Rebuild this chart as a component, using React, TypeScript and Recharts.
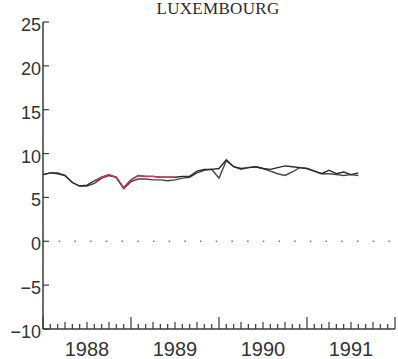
import { LineChart, Line, XAxis, YAxis, ReferenceLine } from 'recharts';

// monthly values, Jan 1988 .. Aug 1991
const seriesA = [
  7.6, 7.8, 7.8, 7.5, 6.7, 6.3, 6.4, 6.9, 7.3, 7.6, 7.3, 6.1,
  7.0, 7.5, 7.4, 7.4, 7.3, 7.3, 7.3, 7.4, 7.4, 8.0, 8.2, 8.2,
  8.3, 9.3, 8.5, 8.3, 8.4, 8.5, 8.3, 8.2, 8.4, 8.6, 8.5, 8.4,
  8.3, 8.0, 7.7, 8.1, 7.7, 7.9, 7.6, 7.8,
];
const seriesB = [
  7.6, 7.8, 7.7, 7.5, 6.7, 6.3, 6.3, 6.6, 7.2, 7.5, 7.3, 6.0,
  6.8, 7.1, 7.1, 7.0, 7.0, 6.9, 7.0, 7.2, 7.3, 7.8, 8.1, 8.2,
  7.2, 9.2, 8.5, 8.2, 8.4, 8.5, 8.3, 8.0, 7.7, 7.5, 7.9, 8.4,
  8.3, 8.0, 7.7, 7.7, 7.6, 7.5, 7.6, 7.5,
];
const redSegment = [
  null, null, null, null, null, null, null, 6.9, 7.3, 7.6, 7.3, 6.1,
  7.0, 7.5, 7.4, 7.4, 7.3, 7.3, 7.3, null, null, null, null, null,
  null, null, null, null, null, null, null, null, null, null, null, null,
  null, null, null, null, null, null, null, null,
];
const yearLabels = ['1988', '1989', '1990', '1991'];
const yTicks = [-10, -5, 0, 5, 10, 15, 20, 25];
const monthTicks = Array.from({ length: 49 }, (_, i) => i);

const data = seriesA.map((a, i) => ({ m: i, a, b: seriesB[i], red: redSegment[i] }));

const axisColor = '#3a3a3a';
const font = '"Liberation Sans", Arial, sans-serif';

function MonthTick({ x, y, payload }: any) {
  const m = payload.value;
  const len = m % 12 === 0 ? 12 : m % 3 === 0 ? 7 : 5;
  return (
    <g>
      <line x1={x} x2={x} y1={y} y2={y - len} stroke={axisColor} strokeWidth={1.2} />
      {m % 12 === 6 && (
        <text x={x} y={y + 27} textAnchor="middle" fontSize={20} fontFamily={font} fill="#333">
          {yearLabels[(m - 6) / 12]}
        </text>
      )}
    </g>
  );
}

function ValueTick({ x, y, payload }: any) {
  const v = payload.value;
  return (
    <g>
      <line x1={x} x2={x + 6} y1={y} y2={y} stroke={axisColor} strokeWidth={1.2} />
      <text x={x - 2} y={y + 9} textAnchor="end" fontSize={18} fontFamily={font} fill="#333">
        {v < 0 ? `\u2212${-v}` : v}
      </text>
    </g>
  );
}

export default function App() {
  return (
    <div style={{ position: 'absolute', left: 0, top: 0, width: 398, height: 359, background: '#fff' }}>
      <div
        style={{
          position: 'absolute',
          left: 0,
          width: 436,
          top: 0,
          lineHeight: '17px',
          textAlign: 'center',
          fontFamily: '"Liberation Serif", "DejaVu Serif", serif',
          fontSize: 17,
          color: '#2a2a2a',
          letterSpacing: 0.3,
        }}
      >
        LUXEMBOURG
      </div>
      <LineChart width={398} height={359} data={data} margin={{ top: 22, right: 3, left: 0, bottom: 0 }}>
        <XAxis
          dataKey="m"
          type="number"
          domain={[0, 48]}
          ticks={monthTicks}
          interval={0}
          height={30}
          tickSize={0}
          tickMargin={0}
          tickLine={false}
          axisLine={{ stroke: axisColor, strokeWidth: 1.5 }}
          tick={<MonthTick />}
        />
        <YAxis
          type="number"
          domain={[-10, 25]}
          ticks={yTicks}
          interval={0}
          width={43}
          tickSize={0}
          tickMargin={0}
          tickLine={false}
          axisLine={{ stroke: axisColor, strokeWidth: 1.5 }}
          tick={<ValueTick />}
        />
        <ReferenceLine y={0} stroke="#777" strokeWidth={1.5} strokeDasharray="1.5 14.2" />
        <Line dataKey="b" type="linear" stroke="#444" strokeWidth={1.4} dot={false} isAnimationActive={false} />
        <Line dataKey="a" type="linear" stroke="#2a2a2a" strokeWidth={1.4} dot={false} isAnimationActive={false} />
        <Line dataKey="red" type="linear" stroke="#c8385a" strokeWidth={1.4} dot={false} connectNulls={false} isAnimationActive={false} />
      </LineChart>
    </div>
  );
}
